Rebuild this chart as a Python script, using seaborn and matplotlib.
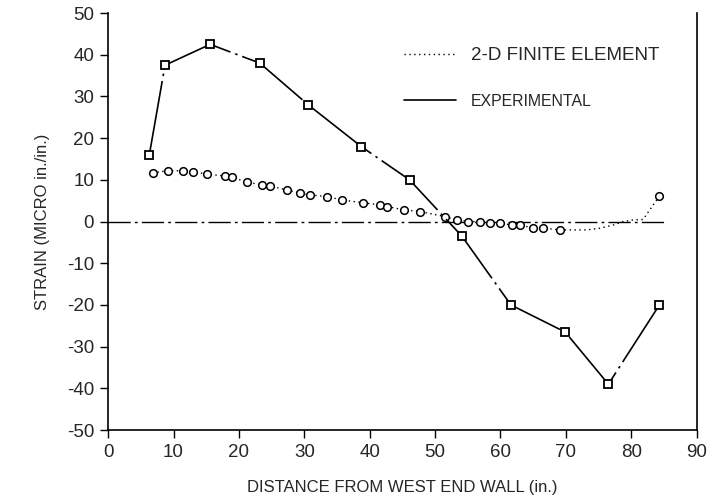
import matplotlib
matplotlib.use("Agg")
import matplotlib.pyplot as plt
from matplotlib.lines import Line2D
import seaborn as sns
import pandas as pd

# Measured strain along the wall (experimental gauges)
exp_x = [6.3, 8.7, 15.6, 23.2, 30.6, 38.7, 46.1, 54.1, 61.6, 69.9, 76.5, 84.3]
exp_y = [16.0, 37.5, 42.5, 38.0, 28.0, 18.0, 10.0, -3.5, -20.0, -26.5, -39.0, -20.0]

# 2-D finite element prediction
fe_x = [6.8, 9.2, 11.5, 13.0, 15.1, 17.9, 18.9, 21.2, 23.5, 24.8, 27.3, 29.4,
        30.8, 33.4, 35.7, 39.0, 41.6, 42.7, 45.2, 47.7, 51.5, 53.3, 55.1, 56.9,
        58.4, 59.9, 61.7, 63.0, 65.0, 66.5, 69.1, 71.1, 73.2, 75.2, 77.3, 78.8,
        80.3, 81.8, 84.3]
fe_y = [11.7, 12.2, 12.2, 11.9, 11.4, 10.9, 10.6, 9.5, 8.8, 8.5, 7.6, 6.8,
        6.4, 6.0, 5.2, 4.5, 4.0, 3.6, 2.8, 2.4, 1.2, 0.4, 0.0, 0.0,
        -0.4, -0.4, -0.8, -0.8, -1.6, -1.6, -2.0, -2.0, -2.0, -1.6, -0.8, 0.0,
        0.4, 0.5, 6.1]

x_ticks = [0, 10, 20, 30, 40, 50, 60, 70, 80, 90]
y_ticks = [-50, -40, -30, -20, -10, 0, 10, 20, 30, 40, 50]

sns.set_theme(style="ticks")
plt.rcParams["font.family"] = ["Liberation Sans", "DejaVu Sans"]

fig = plt.figure(figsize=(7.16, 5.03), dpi=100)
ax = fig.add_axes([0.151, 0.145, 0.822, 0.829])

exp_df = pd.DataFrame({"x": exp_x, "y": exp_y})
fe_df = pd.DataFrame({"x": fe_x, "y": fe_y})

# zero reference line
ax.axhline(0, xmin=0, xmax=85 / 90, color="black", lw=1.0,
           linestyle=(0, (16, 3, 2, 3)), zorder=1)

sns.lineplot(data=fe_df, x="x", y="y", ax=ax, sort=False, estimator=None,
             color="black", lw=1.0, linestyle=(0, (1, 2.5)),
             marker="o", markersize=5.5, markerfacecolor="white",
             markeredgecolor="black", markeredgewidth=1.1,
             markevery=list(range(0, 31)) + [38])

sns.lineplot(data=exp_df, x="x", y="y", ax=ax, sort=False, estimator=None,
             color="black", lw=1.2, linestyle=(0, (45, 3, 1.5, 3)),
             marker="s", markersize=6, markerfacecolor="white",
             markeredgecolor="black", markeredgewidth=1.3)

ax.set_xlim(0, 90)
ax.set_ylim(-50, 50)
ax.set_xticks(x_ticks)
ax.set_yticks(y_ticks)
ax.set_xticklabels([str(v) for v in x_ticks], fontsize=13.5)
ax.set_yticklabels([str(v) for v in y_ticks], fontsize=13.5)
ax.tick_params(direction="out", length=6, width=1.0, color="black", pad=4)

for side in ("left", "bottom", "right"):
    ax.spines[side].set_visible(True)
    ax.spines[side].set_color("black")
    ax.spines[side].set_linewidth(1.2)
ax.spines["top"].set_visible(False)

ax.set_xlabel("DISTANCE FROM WEST END WALL (in.)", fontsize=12, labelpad=14)
ax.set_ylabel("STRAIN (MICRO in./in.)", fontsize=12, labelpad=12)

handles = [
    Line2D([], [], color="black", lw=1.0, linestyle=(0, (1, 2.5))),
    Line2D([], [], color="black", lw=1.2, linestyle="-"),
]
leg = ax.legend(handles, ["2-D FINITE ELEMENT", "EXPERIMENTAL"], frameon=False,
                loc="upper left", bbox_to_anchor=(0.477, 0.955), handlelength=3.1,
                handletextpad=0.9, labelspacing=1.8, fontsize=12)
leg.get_texts()[0].set_fontsize(13.5)
leg.get_texts()[1].set_fontsize(11.4)

fig.savefig("out.png", dpi=100, facecolor="white")
